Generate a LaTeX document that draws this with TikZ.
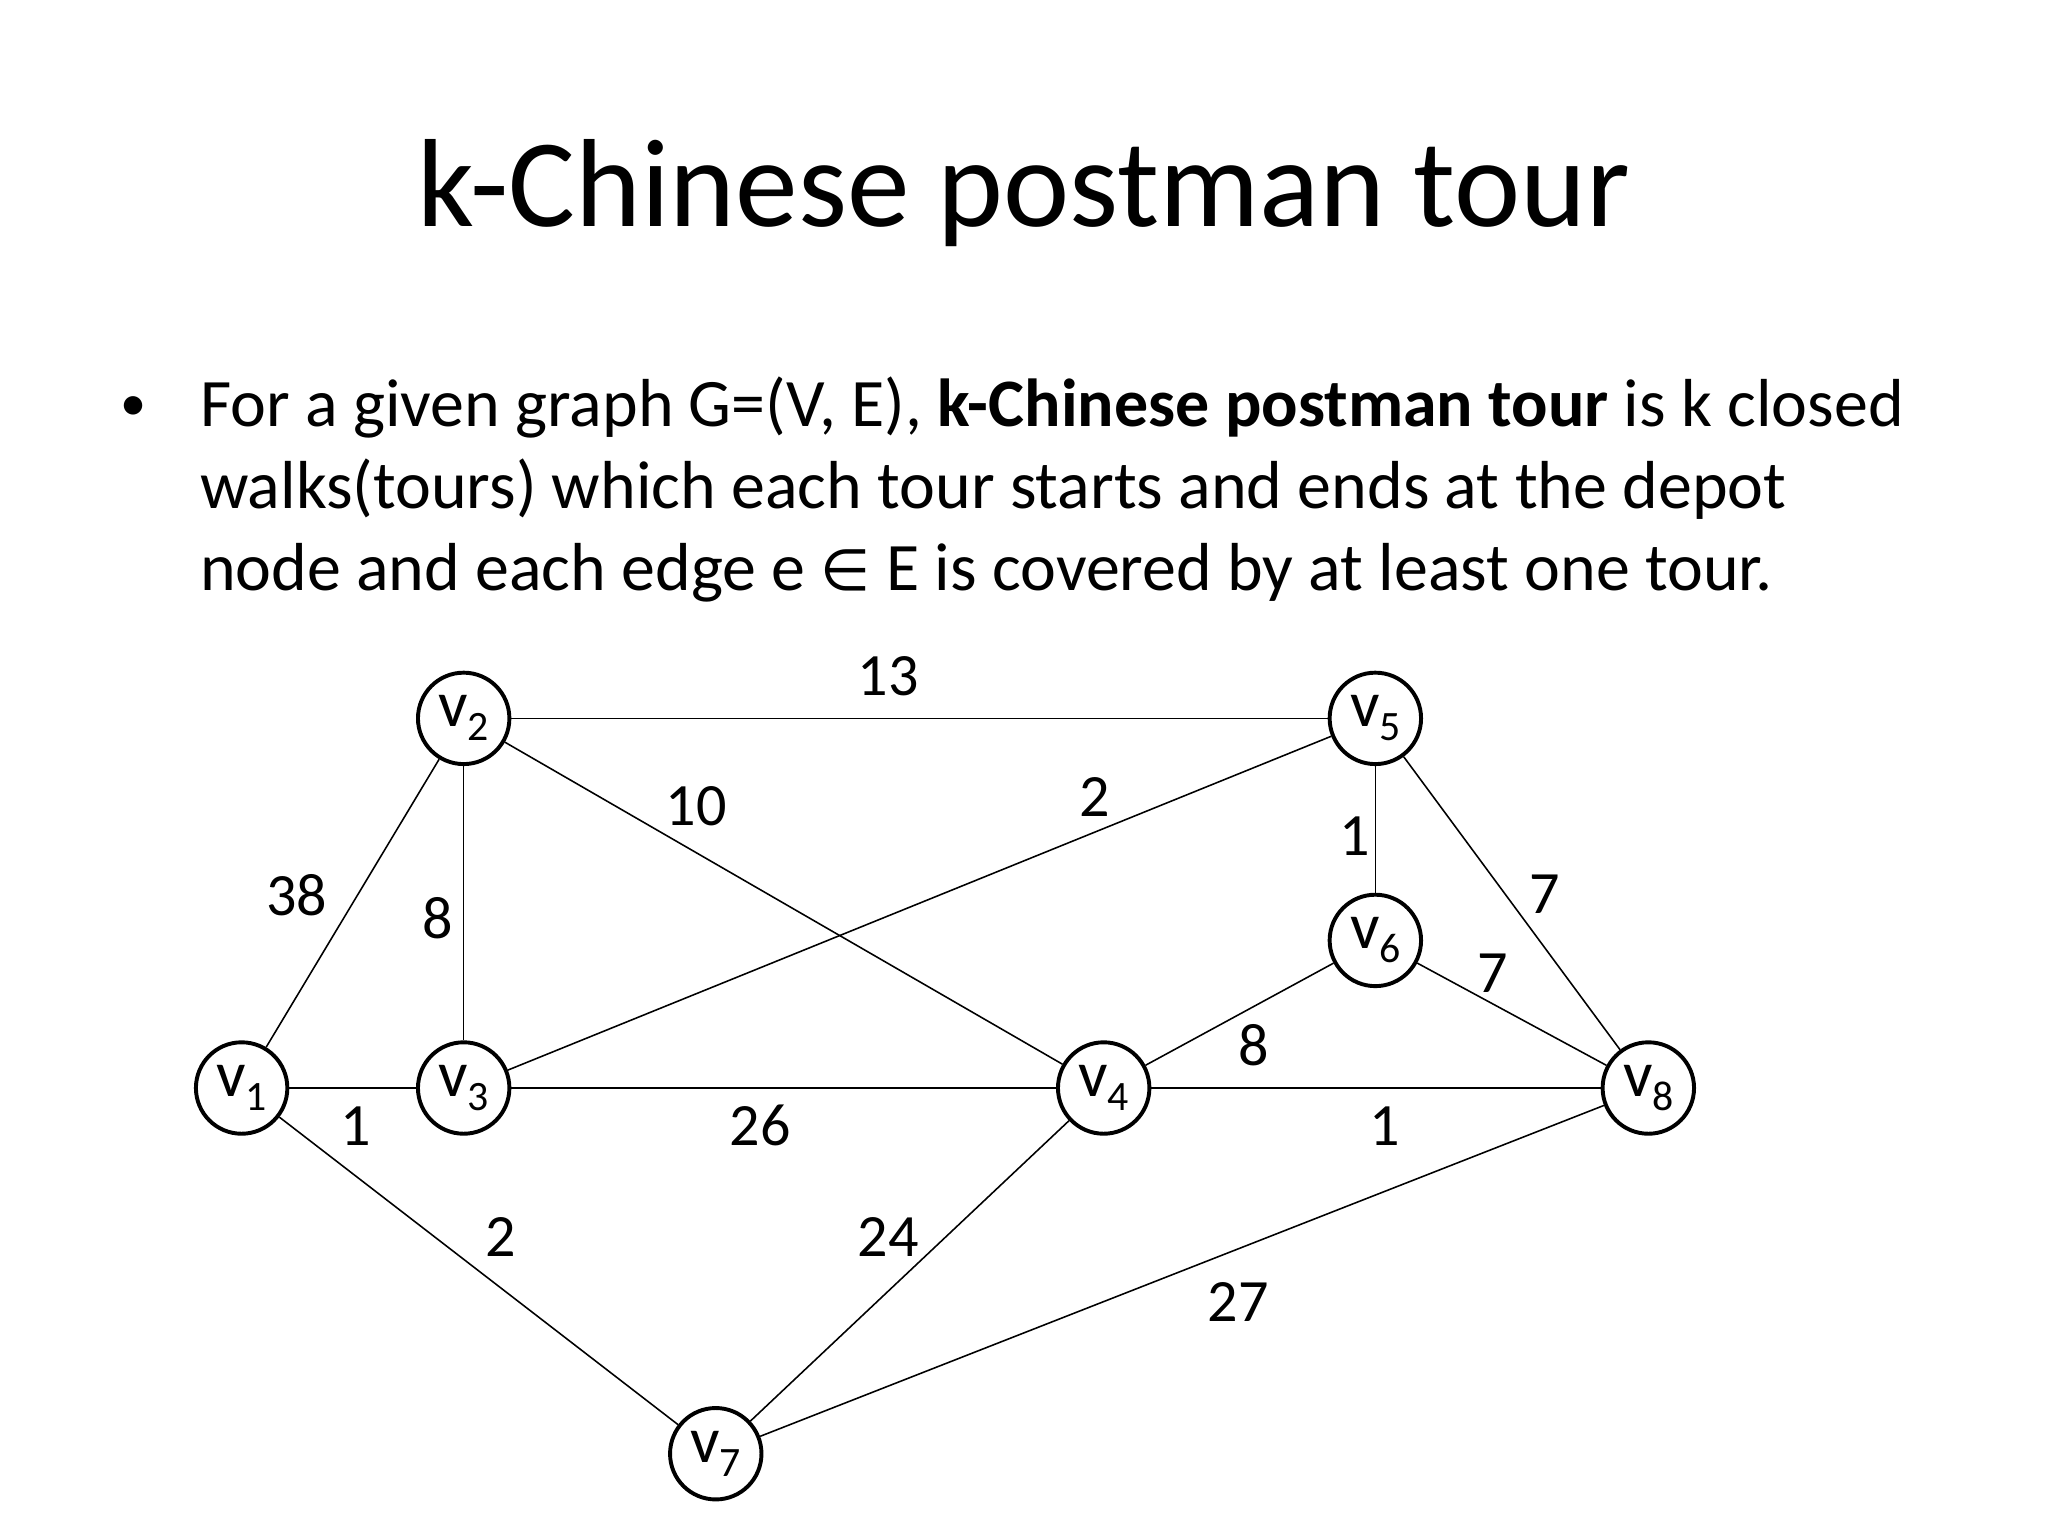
\documentclass[tikz,border=0pt]{standalone}
\usepackage{fontspec}
\setmainfont{Carlito}
\newfontfamily\symfont{DejaVu Sans}
\begin{document}
\begin{tikzpicture}[x=1pt,y=-1pt,
  vtx/.style={circle,draw,line width=3pt,minimum size=70pt,inner sep=0pt,font=\fontsize{50}{50}\selectfont},
  lab/.style={font=\fontsize{46}{46}\selectfont,inner sep=0pt},
  edge/.style={line width=1.2pt}]
\useasboundingbox (0,0) rectangle (1568,1176);
\newcommand{\vv}[1]{v\raisebox{-0.45ex}{\fontsize{32}{32}\selectfont #1}}
\node[font=\fontsize{96}{96}\selectfont] (title) at (784,148) {k-Chinese postman tour};
\node[font=\fontsize{40}{40}\selectfont] (bul) at (102,313) {•};
\node[font=\fontsize{52}{63}\selectfont,anchor=north west,align=left,inner sep=0pt] (txt) at (153,288)
 {For a given graph G=(V, E), \textbf{k-Chinese postman tour} is k closed\\
  walks(tours) which each tour starts and ends at the depot\\
  node and each edge e {\symfont\fontsize{44}{44}\selectfont ∈} E is covered by at least one tour.};
\node[vtx] (v1) at (185,833) {\vv1};
\node[vtx] (v2) at (355,550) {\vv2};
\node[vtx] (v3) at (355,833) {\vv3};
\node[vtx] (v4) at (845,833) {\vv4};
\node[vtx] (v5) at (1053,550) {\vv5};
\node[vtx] (v6) at (1053,720) {\vv6};
\node[vtx] (v7) at (548,1113) {\vv7};
\node[vtx] (v8) at (1262,833) {\vv8};
\draw[edge] (v2)--(v5); \draw[edge] (v2)--(v4); \draw[edge] (v3)--(v5);
\draw[edge] (v5)--(v6); \draw[edge] (v5)--(v8); \draw[edge] (v1)--(v2);
\draw[edge] (v2)--(v3); \draw[edge] (v6)--(v8); \draw[edge] (v6)--(v4);
\draw[edge] (v1)--(v3); \draw[edge] (v3)--(v4); \draw[edge] (v4)--(v8);
\draw[edge] (v1)--(v7); \draw[edge] (v4)--(v7); \draw[edge] (v7)--(v8);
\node[lab] (l1) at (680,518) {13};
\node[lab] (l2) at (533,617) {10};
\node[lab] (l3) at (838,610) {2};
\node[lab] (l4) at (1037,640) {1};
\node[lab] (l5) at (227,685) {38};
\node[lab] (l6) at (335,703) {8};
\node[lab] (l7) at (1183,685) {7};
\node[lab] (l8) at (1143,745) {7};
\node[lab] (l9) at (960,800) {8};
\node[lab] (l10) at (272,862) {1};
\node[lab] (l11) at (582,862) {26};
\node[lab] (l12) at (1060,862) {1};
\node[lab] (l13) at (383,947) {2};
\node[lab] (l14) at (680,947) {24};
\node[lab] (l15) at (948,997) {27};
\end{tikzpicture}
\end{document}
